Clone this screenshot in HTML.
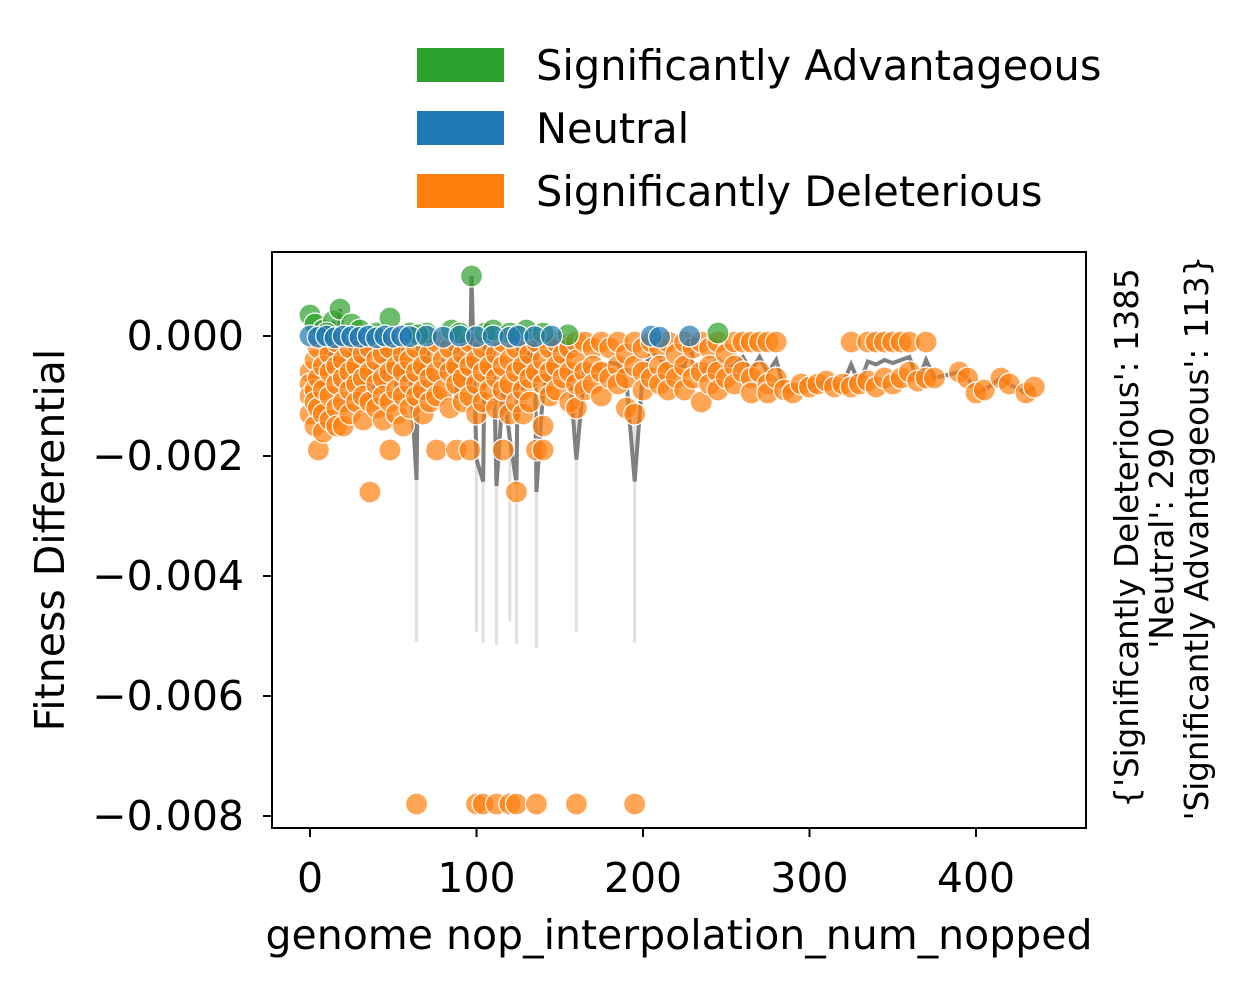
<!DOCTYPE html>
<html><head><meta charset="utf-8"><style>
body{margin:0;background:#fff;width:1251px;height:990px;overflow:hidden}
text{font-family:"DejaVu Sans","Liberation Sans",sans-serif;fill:#000}
</style></head><body>
<svg id="chart" width="1251" height="990" xmlns="http://www.w3.org/2000/svg">
<g id="lines"></g>
<g id="pts"></g>
<rect x="272" y="252" width="814" height="576" fill="none" stroke="#000" stroke-width="2"/>
<g id="axes"></g>
<text x="679" y="949" font-size="41" text-anchor="middle">genome nop_interpolation_num_nopped</text>
<text transform="translate(64,540) rotate(-90)" font-size="41" text-anchor="middle">Fitness Differential</text>
<g transform="translate(1138,538) rotate(-90)" font-size="32.5" text-anchor="middle">
<text x="0" y="0">{'Significantly Deleterious': 1385</text>
<text x="0" y="35">'Neutral': 290</text>
<text x="0" y="70">'Significantly Advantageous': 113}</text>
</g>
<g font-size="41.5">
<rect x="417" y="48" width="87" height="34" fill="#2ca02c"/>
<text x="536" y="80">Significantly Advantageous</text>
<rect x="417" y="111" width="87" height="34" fill="#1f77b4"/>
<text x="536" y="143">Neutral</text>
<rect x="417" y="174" width="87" height="34" fill="#ff7f0e"/>
<text x="536" y="206">Significantly Deleterious</text>
</g>
</svg>
<script>
const xTicks=[0,100,200,300,400];
const yTicks=[0,-0.002,-0.004,-0.006,-0.008];
const yTickLabels=["0.000","\u22120.002","\u22120.004","\u22120.006","\u22120.008"];
const greenX=[0,3,8,14,18,25,30,40,48,60,70,85,97,105,110,120,130,140,155,245,10,65,90];
const greenY=[0.35,0.2,0.1,0.25,0.45,0.2,0.1,0.05,0.3,0.05,0.05,0.1,1.0,0.05,0.1,0.05,0.1,0.05,0.02,0.05,0.05,0.02,0.05];
const blueX=[0,5,10,15,20,25,30,35,40,45,50,55,60,70,80,90,100,110,120,125,135,145,205,210,228];
const blueY=[0,-0.02,0,-0.03,0,-0.01,-0.02,0,-0.03,0,-0.02,0,-0.01,0,-0.02,0,-0.01,0,-0.02,0,-0.01,0,0,-0.02,0];
const orangeX=[0,3,5,8,12,16,20,24,28,32,36,40,44,48,52,56,60,64,68,72,76,80,84,88,92,96,100,104,108,112,116,120,124,128,132,136,140,144,148,152,156,160,165,170,175,180,185,190,195,200,205,210,215,220,225,230,235,240,245,250,255,260,265,270,275,280,285,290,295,300,305,310,315,320,325,330,335,340,345,350,355,360,365,370,375,390,395,400,405,415,420,430,435];
const orangeY=[[-0.6,-0.8,-1.0,-1.3],[-0.4,-0.9,-1.1,-1.5],[-0.2,-0.7,-1.2,-1.9],[-0.5,-0.9,-1.3,-1.6],[-0.3,-0.6,-1.0,-1.4],[-0.1,-0.5,-0.8,-1.2,-1.5],[-0.4,-0.7,-1.1,-1.5],[-0.2,-0.6,-0.9,-1.3],[-0.5,-0.8,-1.1],[-0.3,-0.7,-1.0,-1.4],[-0.2,-0.6,-1.1,-2.6],[-0.4,-0.8,-1.2],[-0.3,-0.7,-1.0,-1.4],[-0.2,-0.6,-1.9,-1.1],[-0.5,-0.9,-1.3],[-0.3,-0.6,-1.0,-1.5],[-0.4,-0.8,-1.2],[-0.2,-0.6,-1.0,-7.8],[-0.5,-0.9,-1.3],[-0.3,-0.7,-1.1],[-0.1,-0.6,-1.0,-1.9],[-0.4,-0.9],[-0.2,-0.6,-1.2],[-0.5,-0.8,-1.9],[-0.3,-0.7,-1.1],[-0.1,-0.5,-1.0,-1.9],[-0.4,-0.8,-1.3,-7.8],[-0.2,-0.6,-1.1,-7.8],[-0.5,-0.9],[-0.3,-0.7,-1.2,-7.8],[-0.1,-0.5,-0.9,-1.9],[-0.4,-0.8,-1.3,-7.8],[-0.2,-0.6,-1.1,-2.6,-7.8],[-0.5,-0.9,-1.3],[-0.3,-0.7,-1.1],[-0.1,-0.6,-1.9,-7.8],[-0.4,-0.8,-1.5,-1.9],[-0.2,-0.6,-1.0],[-0.1,-0.5,-0.9],[-0.3,-0.7],[-0.2,-0.6,-1.1],[-0.1,-0.4,-0.8,-1.2,-7.8],[-0.1,-0.6,-0.9],[-0.2,-0.5,-0.8],[-0.1,-0.6,-1.0],[-0.2,-0.7],[-0.1,-0.5,-0.8],[-0.3,-0.7,-1.2],[-0.1,-0.5,-1.3,-7.8],[-0.2,-0.6,-0.9],[-0.1,-0.7],[-0.2,-0.5,-0.8],[-0.1,-0.6,-0.9],[-0.3,-0.7],[-0.1,-0.5,-0.9],[-0.2,-0.7],[-0.1,-0.6,-1.1],[-0.2,-0.5,-0.8],[-0.1,-0.6,-0.9],[-0.3,-0.7],[-0.1,-0.5,-0.8],[-0.1,-0.6],[-0.1,-0.7,-0.95],[-0.1,-0.6],[-0.1,-0.8,-0.95],[-0.1,-0.7],[-0.9],[-0.95],[-0.8],[-0.85],[-0.8],[-0.75],[-0.85],[-0.8],[-0.1,-0.85],[-0.8],[-0.1,-0.75],[-0.1,-0.85],[-0.1,-0.7],[-0.1,-0.8],[-0.1,-0.7],[-0.6,-0.1],[-0.75],[-0.1,-0.7],[-0.7],[-0.6],[-0.7],[-0.95],[-0.9],[-0.7],[-0.8],[-0.95],[-0.85]];
const NS="http://www.w3.org/2000/svg";
const xs=v=>310+v*1.665, ys=v=>336-v*60;
const axes=document.getElementById('axes'),pts=document.getElementById('pts'),lines=document.getElementById('lines');
function mk(tag,attrs,parent){const e=document.createElementNS(NS,tag);for(const k in attrs)e.setAttribute(k,attrs[k]);parent.appendChild(e);return e;}
xTicks.forEach(t=>{const x=xs(t);
 const l=mk('line',{x1:x,x2:x,y1:828,y2:837,stroke:'#000','stroke-width':2},axes);
 
 
 const tx=mk('text',{x:x,y:892,'font-size':41,'text-anchor':'middle'},axes);tx.textContent=t;
 
 });
yTicks.forEach((t,i)=>{const y=ys(t*1000);
 const l=mk('line',{x1:263,x2:272,y1:y,y2:y,stroke:'#000','stroke-width':2},axes);
 
 
 const tx=mk('text',{x:244,y:y+14,'font-size':41,'text-anchor':'end'},axes);tx.textContent=yTickLabels[i];
 
 });
const groups={};
function add(x,y){(groups[x]=groups[x]||[]).push(y);}
greenX.forEach((x,i)=>add(x,greenY[i]));blueX.forEach((x,i)=>add(x,blueY[i]));
orangeX.forEach((x,i)=>orangeY[i].forEach(y=>add(x,y)));
const keys=Object.keys(groups).map(Number).sort((a,b)=>a-b);
let d='';
keys.forEach((k,i)=>{const a=groups[k];const m=a.reduce((s,v)=>s+v,0)/a.length;
 const mx=Math.max(...a),mn=Math.min(...a);
 if(mn<-5){const c=mk('line',{x1:xs(k),x2:xs(k),y1:ys(m*0.4),y2:ys((m+mn)/2),stroke:'#000','stroke-opacity':0.12,'stroke-width':3},lines);
 
 }
 d+=(i?'L':'M')+xs(k)+' '+ys(m);});
const ml=mk('path',{d:d,fill:'none',stroke:'#808080','stroke-width':4},lines);


function dot(x,y,c,name){const e=mk('circle',{cx:xs(x),cy:ys(y),r:11,fill:c,'fill-opacity':0.7,stroke:'#fff','stroke-width':1.2},pts);
 
 }
orangeX.forEach((x,i)=>orangeY[i].forEach(y=>dot(x,y,'#ff7f0e','point-deleterious')));
greenX.forEach((x,i)=>dot(x,greenY[i],'#2ca02c','point-advantageous'));
blueX.forEach((x,i)=>dot(x,blueY[i],'#1f77b4','point-neutral'));
</script>
</body></html>
